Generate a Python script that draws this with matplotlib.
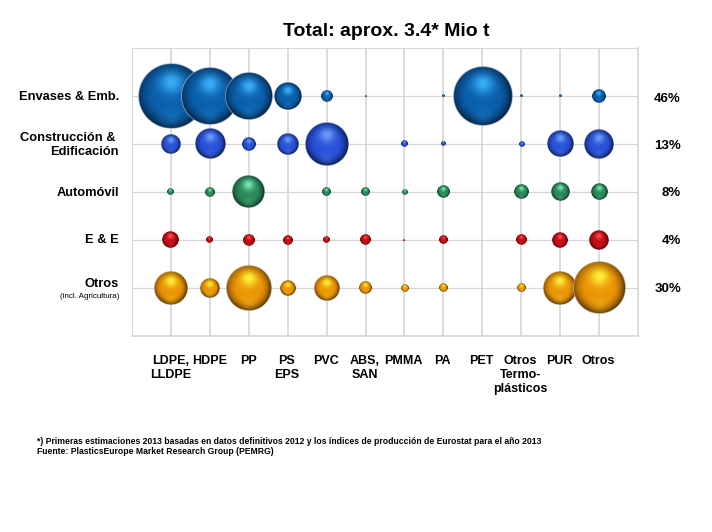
import numpy as np
import matplotlib
matplotlib.use("Agg")
import matplotlib.pyplot as plt

plt.rcParams['font.family'] = ['Liberation Sans', 'DejaVu Sans']

# sizes, area of each bubble (0 = no bubble)
envases = [1089, 841, 576, 196, 32, 0.5, 0, 2, 882, 2, 2, 49]
construccion = [100, 234, 49, 117, 471, 0, 11, 6, 0, 7, 174, 225]
automovil = [12, 25, 272, 0, 20, 18, 8, 38, 0, 52, 90, 69]
electro = [72, 12, 32, 23, 11, 30, 1, 18, 0, 28, 61, 100]
otros = [289, 96, 515, 61, 164, 38, 14, 18, 0, 20, 289, 702]

rows = [envases, construccion, automovil, electro, otros]
row_labels = ["Envases & Emb.", "Construcción & \nEdificación", "Automóvil", "E & E", "Otros"]
row_shares = ["46%", "13%", "8%", "4%", "30%"]
columns = ["LDPE,\nLLDPE", "HDPE", "PP", "PS\nEPS", "PVC", "ABS,\nSAN", "PMMA", "PA", "PET",
           "Otros\nTermo-\nplásticos", "PUR", "Otros"]

# base, highlight, shadow
colors = [("#0a5eaa", "#38aef8", "#021f3e"),
          ("#2850d8", "#6a9cf8", "#081648"),
          ("#2a8659", "#78e8b0", "#08301c"),
          ("#c40a10", "#f85058", "#3c0003"),
          ("#ea9406", "#fff038", "#563000")]
GRID = "#d6d6d6"


def sphere(base, light, dark, n=300):
    base, light, dark = [np.array(matplotlib.colors.to_rgb(c)) for c in (base, light, dark)]
    u, v = np.meshgrid(np.linspace(-1, 1, n), np.linspace(-1, 1, n))  # v points down
    r = np.hypot(u, v)
    spot = np.exp(-(u ** 2 + (v + 0.42) ** 2) / 0.12)[..., None]
    edge = (np.clip((r - 0.5) / 0.48, 0, 1) ** 1.9)[..., None]
    # shadow sits more to the lower right, soft glow on the bottom
    edge = edge * np.clip(0.85 + 0.35 * (v + u * 0.5), 0.4, 1)[..., None]
    low = np.exp(-(u ** 2 + (v - 0.7) ** 2) / 0.1)[..., None] * 0.2
    img = base * (1 - spot) + light * spot
    img = img * (1 - edge) + dark * edge
    img = img * (1 - low) + light * low
    # thin pale rim round the ball
    rim = np.clip((r - 0.965) / 0.02, 0, 1)[..., None] * 0.85
    img = img * (1 - rim) + np.array([0.82, 0.82, 0.86]) * rim
    alpha = np.clip((1 - r) * n / 2, 0, 1)[..., None]
    return np.dstack([img, alpha])


def drawChart():
    fig = plt.figure(figsize=(7.12, 5.32), dpi=100)
    ax = fig.add_axes([132 / 712, 1 - 336 / 532, 506 / 712, 288 / 532])
    px_x = 506 / 13  # pixels per column
    px_y = 288 / 6  # pixels per row

    for x in range(1, 13):
        ax.axvline(x, color=GRID, lw=1.2, zorder=1)
    for y in range(1, 6):
        ax.axhline(y, color=GRID, lw=0.9, zorder=1)

    for i, row in enumerate(rows):
        tex = sphere(*colors[i])
        y = 5 - i
        for j, val in enumerate(row):
            if val <= 0:
                continue
            r = np.sqrt(val)
            x = j + 1
            ax.imshow(tex, extent=[x - r / px_x, x + r / px_x, y - r / px_y, y + r / px_y],
                      origin="upper", aspect="auto", zorder=3, interpolation="antialiased",
                      clip_on=False)

    ax.set_xlim(0, 13)
    ax.set_ylim(0, 6)
    ax.set_xticks([])
    ax.set_yticks([])
    ax.spines["left"].set_linewidth(0.7)
    ax.spines["top"].set_linewidth(0.7)
    ax.spines["bottom"].set_linewidth(1.2)
    ax.spines["right"].set_linewidth(1.2)
    for spine in ax.spines.values():
        spine.set_color(GRID)

    fig.text(386.5 / 712, 1 - 32 / 532, "Total: aprox. 3.4* Mio t", fontsize=14, fontweight="bold",
             ha="center", va="center")

    label_y = [97, 145, 193, 240, 284]
    share_y = [99, 146, 193, 241, 289]
    for i, label in enumerate(row_labels):
        fig.text(119 / 712, 1 - label_y[i] / 532, label, ha="right", va="center", fontsize=9.3,
                 fontweight="bold", linespacing=1.3)
        fig.text(681 / 712, 1 - share_y[i] / 532, row_shares[i], ha="right", va="center",
                 fontsize=9.5, fontweight="bold")
    fig.text(119 / 712, 1 - 296.5 / 532, "(incl. Agricultura)", fontsize=5.8, ha="right", va="center")

    for j, label in enumerate(columns):
        ax.annotate(label, (j + 1, 0), xytext=(-0.5, -13.5), textcoords="offset points", xycoords="data",
                    ha="center", va="top", fontsize=9, fontweight="bold", linespacing=1.25)

    fig.text(37 / 712, 1 - 441 / 532,
             "*) Primeras estimaciones 2013 basadas en datos definitivos 2012 y los índices de producción de Eurostat para el año 2013",
             fontsize=6.2, fontweight="bold", va="center")
    fig.text(37 / 712, 1 - 452 / 532, "Fuente: PlasticsEurope Market Research Group (PEMRG)",
             fontsize=6.2, fontweight="bold", va="center")

    fig.savefig("out.png", dpi=100)


if __name__ == '__main__':
    drawChart()
